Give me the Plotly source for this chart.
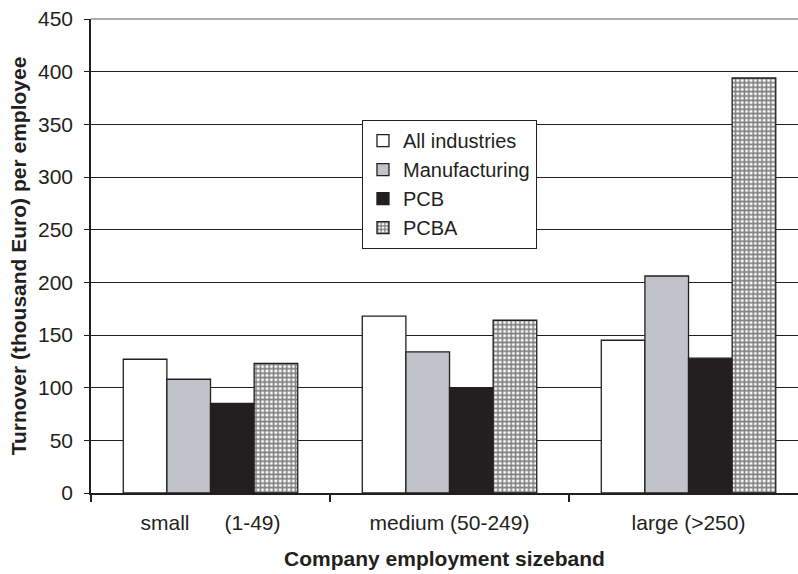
import plotly.graph_objects as go

categories = ["small" + "\u00a0" * 6 + "(1-49)", "medium (50-249)", "large (>250)"]
series_names = ["All industries", "Manufacturing", "PCB", "PCBA"]
all_industries = [127, 168, 145]
manufacturing = [108, 134, 206]
pcb = [85, 100, 128]
pcba = [123, 164, 394]
y_ticks = [0, 50, 100, 150, 200, 250, 300, 350, 400, 450]

FONT = "Liberation Sans, Arial, sans-serif"
INK = "#231f20"
FS = 21

fig = go.Figure()
styles = [
    dict(color="white"),
    dict(color="#c0c3ca"),
    dict(color=INK),
    dict(color="white", pattern=dict(shape="+", fgcolor="#000000", bgcolor="white",
                                     size=4.4, solidity=0.6, fillmode="overlay")),
]
for name, vals, st in zip(series_names, [all_industries, manufacturing, pcb, pcba], styles):
    fig.add_trace(go.Bar(
        x=categories, y=vals, name=name,
        marker=dict(**st, line=dict(color=INK, width=1.3)),
    ))

fig.update_layout(
    width=798, height=574,
    paper_bgcolor="white", plot_bgcolor="white",
    margin=dict(l=91, r=0, t=19, b=81, autoexpand=False),
    barmode="group", bargap=0.27, bargroupgap=0,
    font=dict(family=FONT, size=FS, color=INK),
    showlegend=True,
    legend=dict(
        x=0.383, y=0.787, xanchor="left", yanchor="top",
        bgcolor="white", bordercolor=INK, borderwidth=1.2,
        font=dict(family=FONT, size=FS - 1, color=INK),
        itemwidth=30, tracegroupgap=0,
    ),
    xaxis=dict(
        type="category", range=[-0.5, 2.458], automargin=False,
        showline=True, linecolor=INK, linewidth=1.5,
        ticks="outside", tickson="boundaries", ticklen=7, tickcolor=INK, tickwidth=1.5,
        ticklabelstandoff=10,
        showgrid=False, tickfont=dict(size=FS),
        title=dict(text="<b>Company employment sizeband</b>", font=dict(size=FS), standoff=18),
    ),
    yaxis=dict(
        range=[0, 450], tickvals=y_ticks, automargin=False,
        showline=True, linecolor=INK, linewidth=1.5,
        ticks="outside", ticklen=5, tickcolor=INK, tickwidth=1.2,
        ticklabelstandoff=7,
        showgrid=True, gridcolor=INK, gridwidth=1.2,
        zeroline=False, tickfont=dict(size=FS),
        title=dict(text="<b>Turnover (thousand Euro) per employee</b>", font=dict(size=FS), standoff=6),
    ),
    shapes=[dict(type="line", xref="paper", yref="y domain", x0=0, x1=1, y0=1, y1=1,
                 line=dict(color="#8c939b", width=1.5), layer="above")],
)

fig.write_html(
    "out.html",
    config={"displayModeBar": False},
    post_script="document.body.style.margin='0px';document.body.style.overflow='hidden';",
)
